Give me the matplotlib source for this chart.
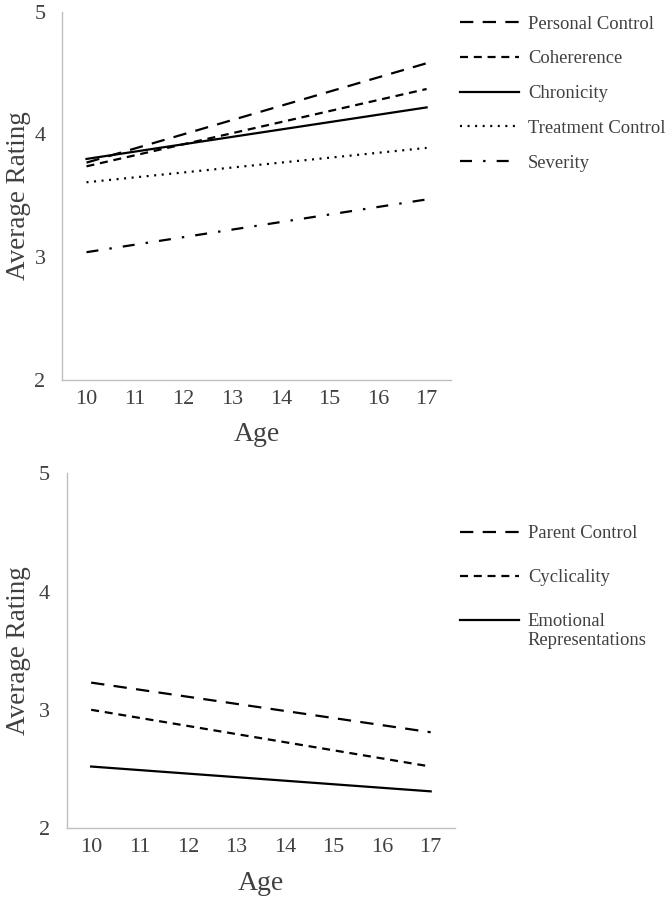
import matplotlib
matplotlib.use("Agg")
import matplotlib.pyplot as plt

# --- data ---
ages = [10, 17]
age_ticks = [10, 11, 12, 13, 14, 15, 16, 17]

top_labels = ["Personal Control", "Cohererence", "Chronicity", "Treatment Control", "Severity"]
personal_control = [3.77, 4.58]
cohererence = [3.74, 4.37]
chronicity = [3.80, 4.22]
treatment_control = [3.61, 3.89]
severity = [3.04, 3.47]

bottom_labels = ["Parent Control", "Cyclicality", "Emotional"]
bottom_label_extra = "Representations"
parent_control = [3.23, 2.81]
cyclicality = [3.00, 2.52]
emotional = [2.52, 2.31]

plt.rcParams["font.family"] = ["Liberation Serif", "DejaVu Serif"]
text_col = "#404040"
spine_col = "#bfbfbf"
lw = 1.6

# dash patterns (in linewidth units)
long_dash = (0, (6.0, 4.2))
short_dash = (0, (3.6, 2.6))
solid = "-"
dotted = (0, (0.9, 2.5))
dash_dot = (0, (5.4, 5.0, 1.1, 5.0))

fig = plt.figure(figsize=(6.69, 9.0), dpi=100)


def style_axes(ax, ylab_x):
    ax.set_xlim(9.5, 17.5)
    ax.set_ylim(2, 5)
    ax.set_xticks(age_ticks)
    ax.set_yticks([2, 3, 4, 5])
    for side in ["top", "right"]:
        ax.spines[side].set_visible(False)
    for side in ["left", "bottom"]:
        ax.spines[side].set_color(spine_col)
        ax.spines[side].set_linewidth(1.0)
    ax.tick_params(length=0, labelsize=16, labelcolor=text_col)
    ax.tick_params(axis="x", pad=7)
    ax.tick_params(axis="y", pad=12)
    ax.set_xlabel("Age", fontsize=20, color=text_col, labelpad=10)
    ax.set_ylabel("Average Rating", fontsize=19.5, color=text_col)
    ax.yaxis.set_label_coords(ylab_x, 0.5)


def style_legend(leg):
    for t in leg.get_texts():
        t.set_color(text_col)


# --- top panel ---
ax1 = fig.add_axes([0.093, 0.578, 0.581, 0.409])
top_series = [personal_control, cohererence, chronicity, treatment_control, severity]
top_styles = [long_dash, short_dash, solid, dotted, dash_dot]
for vals, ls, lab in zip(top_series, top_styles, top_labels):
    ax1.plot(ages, vals, color="black", lw=lw, linestyle=ls, label=lab)
style_axes(ax1, -0.080)
leg1 = ax1.legend(loc="upper left", bbox_to_anchor=(0.668, 0.997), bbox_transform=fig.transFigure,
                  frameon=False, fontsize=13.4, handlelength=3.2, handletextpad=0.45,
                  labelspacing=0.95, borderaxespad=0.3)
style_legend(leg1)

# --- bottom panel ---
ax2 = fig.add_axes([0.100, 0.080, 0.580, 0.394])
bottom_series = [parent_control, cyclicality, emotional]
bottom_styles = [long_dash, short_dash, solid]
for vals, ls, lab in zip(bottom_series, bottom_styles, bottom_labels):
    ax2.plot(ages, vals, color="black", lw=lw, linestyle=ls, label=lab)
style_axes(ax2, -0.093)
leg2 = ax2.legend(loc="upper left", bbox_to_anchor=(0.668, 0.431), bbox_transform=fig.transFigure,
                  frameon=False, fontsize=13.4, handlelength=3.2, handletextpad=0.45,
                  labelspacing=1.45, borderaxespad=0.3)
style_legend(leg2)

# second line of the last legend label, under "Emotional"
fig.canvas.draw()
em_text = leg2.get_texts()[-1]
bb = em_text.get_window_extent()
fig.text(bb.x0 / fig.bbox.width, (bb.y0 - 2) / fig.bbox.height, bottom_label_extra,
         fontsize=13.4, color=text_col, ha="left", va="top")

fig.savefig("out.png", dpi=100)
